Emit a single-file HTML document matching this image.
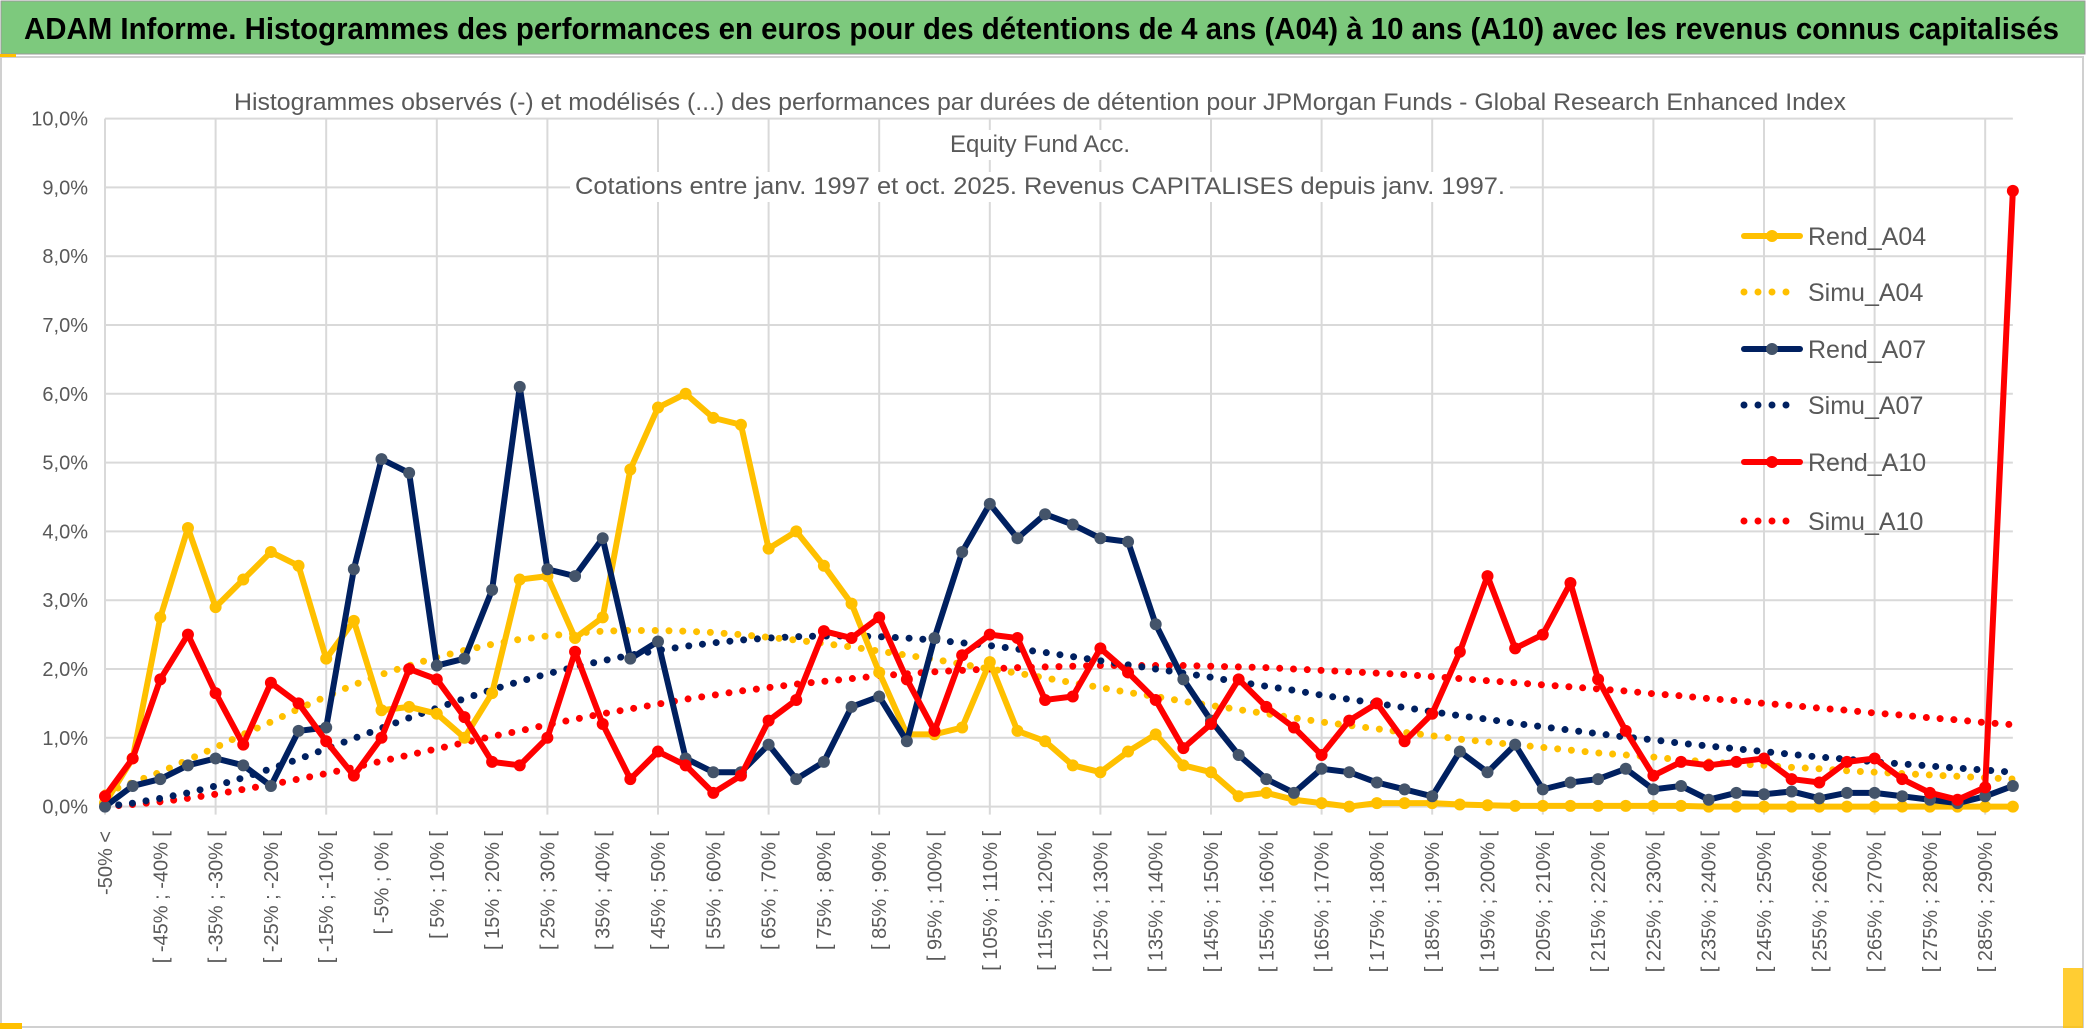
<!DOCTYPE html>
<html><head><meta charset="utf-8"><style>
html,body{margin:0;padding:0;background:#fff;}
svg{display:block;font-family:"Liberation Sans",sans-serif;}
</style></head><body>
<svg id="c" width="2086" height="1033" viewBox="0 0 2086 1033" xmlns="http://www.w3.org/2000/svg">
<rect x="0" y="0" width="2086" height="1033" fill="#fff"/>
<rect x="1" y="1" width="2084" height="53" fill="#7DC97D" stroke="#999" stroke-width="1"/>
<text x="24" y="39" font-size="31" font-weight="bold" fill="#000" textLength="2035" lengthAdjust="spacingAndGlyphs">ADAM Informe. Histogrammes des performances en euros pour des détentions de 4 ans (A04) à 10 ans (A10) avec les revenus connus capitalisés</text>
<rect x="1" y="57" width="2082" height="970" fill="#fff" stroke="#d0d0d0" stroke-width="2"/>
<rect x="0" y="54" width="16" height="3" fill="#FFC000"/>
<rect x="0" y="1023" width="22" height="6" fill="#FFC000"/>
<rect x="2063" y="968" width="20" height="60" fill="#FFC000" opacity="0.8"/>
<g id="grid"></g>
<g>
<rect x="570" y="172" width="940" height="30" fill="#fff"/>
<rect x="975" y="130" width="130" height="30" fill="#fff"/>
<text x="1040" y="110" font-size="24" fill="#595959" text-anchor="middle" textLength="1612" lengthAdjust="spacingAndGlyphs">Histogrammes observés (-) et modélisés (...) des performances par durées de détention pour JPMorgan Funds - Global Research Enhanced Index</text>
<text x="1040" y="152" font-size="24" fill="#595959" text-anchor="middle">Equity Fund Acc.</text>
<text x="1040" y="194" font-size="24" fill="#595959" text-anchor="middle" textLength="930" lengthAdjust="spacingAndGlyphs">Cotations entre janv. 1997 et oct. 2025. Revenus CAPITALISES depuis janv. 1997.</text>
</g>
<g id="series"></g><g id="axes"></g><g id="legend"></g>
</svg>
<script>
const yTicks = [0,1,2,3,4,5,6,7,8,9,10];
const categories = ["-50% <"];
for (let k = 1; k < 70; k++) categories.push("[ " + (-55 + 5*k) + "% ; " + (-50 + 5*k) + "% [");
const rendA04 = [0.05,0.7,2.75,4.05,2.9,3.3,3.7,3.5,2.15,2.7,1.4,1.45,1.35,1.0,1.65,3.3,3.35,2.45,2.75,4.9,5.8,6.0,5.65,5.55,3.75,4.0,3.5,2.95,1.95,1.05,1.05,1.15,2.1,1.1,0.95,0.6,0.5,0.8,1.05,0.6,0.5,0.15,0.2,0.1,0.05,0.0,0.05,0.05,0.05,0.03,0.02,0.01,0.01,0.01,0.01,0.01,0.01,0.01,0.0,0.0,0.0,0.0,0.0,0.0,0.0,0.0,0.0,0.0,0.0,0.0];
const simuA04 = [0.2,0.35,0.5,0.68,0.86,1.05,1.23,1.42,1.6,1.77,1.92,2.05,2.17,2.27,2.36,2.43,2.48,2.52,2.55,2.56,2.56,2.55,2.53,2.5,2.46,2.42,2.37,2.32,2.26,2.2,2.14,2.07,2.0,1.94,1.87,1.8,1.73,1.66,1.6,1.53,1.47,1.41,1.35,1.29,1.23,1.18,1.13,1.08,1.03,0.98,0.94,0.9,0.86,0.82,0.78,0.75,0.72,0.68,0.65,0.62,0.6,0.57,0.55,0.52,0.5,0.48,0.46,0.44,0.42,0.4];
const rendA07 = [0.0,0.3,0.4,0.6,0.7,0.6,0.3,1.1,1.15,3.45,5.05,4.85,2.05,2.15,3.15,6.1,3.45,3.35,3.9,2.15,2.4,0.7,0.5,0.5,0.9,0.4,0.65,1.45,1.6,0.95,2.45,3.7,4.4,3.9,4.25,4.1,3.9,3.85,2.65,1.85,1.25,0.75,0.4,0.2,0.55,0.5,0.35,0.25,0.15,0.8,0.5,0.9,0.25,0.35,0.4,0.55,0.25,0.3,0.1,0.2,0.18,0.22,0.12,0.2,0.2,0.15,0.1,0.05,0.15,0.3];
const simuA07 = [0,0.05,0.12,0.2,0.3,0.42,0.55,0.69,0.84,0.99,1.14,1.29,1.43,1.57,1.7,1.82,1.93,2.03,2.12,2.2,2.27,2.33,2.38,2.42,2.45,2.47,2.48,2.48,2.47,2.45,2.42,2.38,2.34,2.29,2.24,2.18,2.12,2.06,2.0,1.94,1.88,1.81,1.75,1.69,1.62,1.56,1.5,1.44,1.38,1.32,1.27,1.21,1.16,1.11,1.06,1.01,0.97,0.92,0.88,0.84,0.8,0.76,0.72,0.69,0.65,0.62,0.59,0.56,0.53,0.5];
const rendA10 = [0.15,0.7,1.85,2.5,1.65,0.9,1.8,1.5,0.95,0.45,1.0,2.0,1.85,1.3,0.65,0.6,1.0,2.25,1.2,0.4,0.8,0.6,0.2,0.45,1.25,1.55,2.55,2.45,2.75,1.85,1.1,2.2,2.5,2.45,1.55,1.6,2.3,1.95,1.55,0.85,1.2,1.85,1.45,1.15,0.75,1.25,1.5,0.95,1.35,2.25,3.35,2.3,2.5,3.25,1.85,1.1,0.45,0.65,0.6,0.65,0.7,0.4,0.35,0.65,0.7,0.4,0.2,0.1,0.28,8.95];
const simuA10 = [0,0.03,0.07,0.12,0.18,0.25,0.32,0.4,0.48,0.57,0.66,0.75,0.84,0.93,1.02,1.1,1.19,1.27,1.35,1.42,1.49,1.56,1.62,1.68,1.73,1.78,1.82,1.86,1.9,1.93,1.96,1.98,2.0,2.02,2.03,2.04,2.05,2.05,2.05,2.05,2.04,2.03,2.02,2.0,1.98,1.96,1.94,1.92,1.89,1.86,1.83,1.8,1.77,1.74,1.71,1.68,1.64,1.61,1.57,1.54,1.5,1.47,1.43,1.4,1.36,1.33,1.29,1.26,1.22,1.19];
const seriesNames = ["Rend_A04","Simu_A04","Rend_A07","Simu_A07","Rend_A10","Simu_A10"];

const NS = "http://www.w3.org/2000/svg";
const X0 = 105, DX = 27.65, Y0 = 806.6, DY = 68.8;
function xs(i){ return X0 + DX*i; }
function ys(v){ return Y0 - DY*v; }
function mk(tag, attrs, parent){ const e = document.createElementNS(NS, tag); for (const k in attrs) e.setAttribute(k, attrs[k]); parent.appendChild(e); return e; }
const grid = document.getElementById('grid'), axes = document.getElementById('axes'), ser = document.getElementById('series'), leg = document.getElementById('legend');
const xEnd = xs(categories.length - 1);

yTicks.forEach(t => {
  const l = mk('line', {x1:X0, x2:xEnd, y1:ys(t), y2:ys(t), stroke:'#d9d9d9', 'stroke-width':2}, grid);
  
  
  const tx = mk('text', {x:88, y:ys(t)+7, 'font-size':20, fill:'#595959', 'text-anchor':'end'}, axes);
  tx.textContent = t.toFixed(1).replace('.', ',') + '%';
  
  
});
for (let i = 0; i < categories.length; i += 4) {
  const l = mk('line', {x1:xs(i), x2:xs(i), y1:ys(10), y2:Y0+8, stroke:'#d9d9d9', 'stroke-width':2}, grid);
  
  
}
categories.forEach((c, i) => {
  if (i % 2) return;
  const x = xs(i) + 7, y = 831;
  const tx = mk('text', {x:x, y:y, 'font-size':20, fill:'#595959', 'text-anchor':'end', transform:'rotate(-90 '+x+' '+y+')'}, axes);
  tx.textContent = c;
  
  
});

function dotted(vals, color, name){
  const p = mk('polyline', {points: vals.map((v,i)=>xs(i)+','+ys(v)).join(' '), fill:'none', stroke:color, 'stroke-width':7, 'stroke-linecap':'round', 'stroke-dasharray':'0 13.8'}, ser);
  
  
}
function solid(vals, color, mcolor, name){
  const g = mk('g', {}, ser);
  
  
  mk('polyline', {points: vals.map((v,i)=>xs(i)+','+ys(v)).join(' '), fill:'none', stroke:color, 'stroke-width':6, 'stroke-linejoin':'round'}, g);
  vals.forEach((v,i) => {
    const c = mk('circle', {cx:xs(i), cy:ys(v), r:6, fill:mcolor}, g);
    
    
  });
}
dotted(simuA10, '#FF0000', 'simu-a10-line');
dotted(simuA07, '#002060', 'simu-a07-line');
dotted(simuA04, '#FFC000', 'simu-a04-line');
solid(rendA04, '#FFC000', '#FFC000', 'rend-a04-line');
solid(rendA07, '#002060', '#44546A', 'rend-a07-line');
solid(rendA10, '#FF0000', '#FF0000', 'rend-a10-line');

const legY = [236, 292, 349, 405, 462, 521];
const legColors = ['#FFC000','#FFC000','#002060','#002060','#FF0000','#FF0000'];
seriesNames.forEach((n, k) => {
  const g = mk('g', {}, leg);
  
  
  const y = legY[k], col = legColors[k];
  if (k % 2 === 0) {
    mk('line', {x1:1744, x2:1800, y1:y, y2:y, stroke:col, 'stroke-width':6, 'stroke-linecap':'round'}, g);
    mk('circle', {cx:1772, cy:y, r:6, fill: k===2 ? '#44546A' : col}, g);
  } else {
    mk('line', {x1:1744, x2:1800, y1:y, y2:y, stroke:col, 'stroke-width':7, 'stroke-linecap':'round', 'stroke-dasharray':'0 14'}, g);
  }
  const t = mk('text', {x:1808, y:y+9, 'font-size':25, fill:'#595959'}, g);
  t.textContent = n;
});
</script>
</body></html>
